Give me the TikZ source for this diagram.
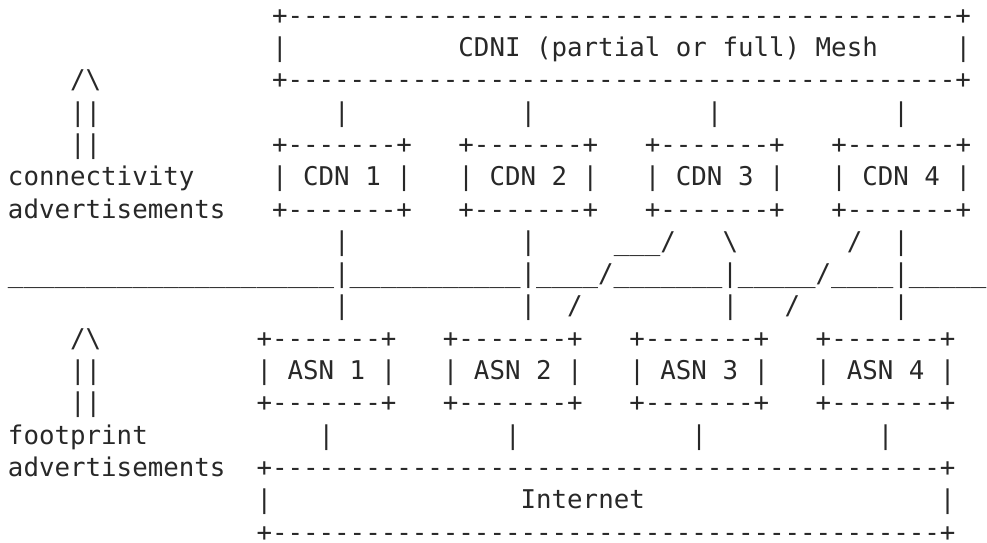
\documentclass[tikz,border=0pt]{standalone}
\usepackage{fontspec}
\setmonofont{DejaVu Sans Mono}
\definecolor{ink}{RGB}{40,40,40}
\tikzset{
  ch/.style={inner sep=0pt, outer sep=0pt, anchor=base west, text=ink,
    font=\ttfamily\fontsize{25.8}{30}\selectfont}
}
% place a run of characters: name, column, row, text
\newcommand\ascii[4]{\node[ch] (#1) at ({(8+#2*15.533)*1pt},{-(24.2+(#3-1)*32.3)*1pt}) {#4};}
\begin{document}
\begin{tikzpicture}
\useasboundingbox (0,0) rectangle (987pt,-542pt);
% CDNI mesh box
\ascii{meshtop}{17}{1}{+-------------------------------------------+}
\ascii{meshl}{17}{2}{|}
\ascii{mesh}{29}{2}{CDNI (partial or full) Mesh}
\ascii{meshr}{61}{2}{|}
\ascii{arrowa}{4}{3}{/\textbackslash}
\ascii{meshbot}{17}{3}{+-------------------------------------------+}
% links mesh - CDNs
\ascii{shafta1}{4}{4}{||}
\ascii{lm1}{21}{4}{|}
\ascii{lm2}{33}{4}{|}
\ascii{lm3}{45}{4}{|}
\ascii{lm4}{57}{4}{|}
% CDN boxes
\ascii{shafta2}{4}{5}{||}
\ascii{cdn1t}{17}{5}{+-------+}
\ascii{cdn2t}{29}{5}{+-------+}
\ascii{cdn3t}{41}{5}{+-------+}
\ascii{cdn4t}{53}{5}{+-------+}
\ascii{conn}{0}{6}{connectivity}
\ascii{cdn1}{17}{6}{| CDN 1 |}
\ascii{cdn2}{29}{6}{| CDN 2 |}
\ascii{cdn3}{41}{6}{| CDN 3 |}
\ascii{cdn4}{53}{6}{| CDN 4 |}
\ascii{adv1}{0}{7}{advertisements}
\ascii{cdn1b}{17}{7}{+-------+}
\ascii{cdn2b}{29}{7}{+-------+}
\ascii{cdn3b}{41}{7}{+-------+}
\ascii{cdn4b}{53}{7}{+-------+}
% interconnection lines
\ascii{u1}{21}{8}{|}
\ascii{u2}{33}{8}{|}
\ascii{u3}{39}{8}{\_\_\_/}
\ascii{u4}{46}{8}{\textbackslash}
\ascii{u5}{54}{8}{/}
\ascii{u6}{57}{8}{|}
\ascii{bus}{0}{9}{\_\_\_\_\_\_\_\_\_\_\_\_\_\_\_\_\_\_\_\_\_|\_\_\_\_\_\_\_\_\_\_\_|\_\_\_\_/\_\_\_\_\_\_\_|\_\_\_\_\_/\_\_\_\_|\_\_\_\_\_}
\ascii{d1}{21}{10}{|}
\ascii{d2}{33}{10}{|}
\ascii{d3}{36}{10}{/}
\ascii{d4}{46}{10}{|}
\ascii{d5}{50}{10}{/}
\ascii{d6}{57}{10}{|}
% ASN boxes
\ascii{arrowb}{4}{11}{/\textbackslash}
\ascii{asn1t}{16}{11}{+-------+}
\ascii{asn2t}{28}{11}{+-------+}
\ascii{asn3t}{40}{11}{+-------+}
\ascii{asn4t}{52}{11}{+-------+}
\ascii{shaftb1}{4}{12}{||}
\ascii{asn1}{16}{12}{| ASN 1 |}
\ascii{asn2}{28}{12}{| ASN 2 |}
\ascii{asn3}{40}{12}{| ASN 3 |}
\ascii{asn4}{52}{12}{| ASN 4 |}
\ascii{shaftb2}{4}{13}{||}
\ascii{asn1b}{16}{13}{+-------+}
\ascii{asn2b}{28}{13}{+-------+}
\ascii{asn3b}{40}{13}{+-------+}
\ascii{asn4b}{52}{13}{+-------+}
% links ASNs - Internet
\ascii{foot}{0}{14}{footprint}
\ascii{li1}{20}{14}{|}
\ascii{li2}{32}{14}{|}
\ascii{li3}{44}{14}{|}
\ascii{li4}{56}{14}{|}
\ascii{adv2}{0}{15}{advertisements}
\ascii{nettop}{16}{15}{+-------------------------------------------+}
\ascii{netl}{16}{16}{|}
\ascii{net}{33}{16}{Internet}
\ascii{netr}{60}{16}{|}
\ascii{netbot}{16}{17}{+-------------------------------------------+}
\end{tikzpicture}
\end{document}
